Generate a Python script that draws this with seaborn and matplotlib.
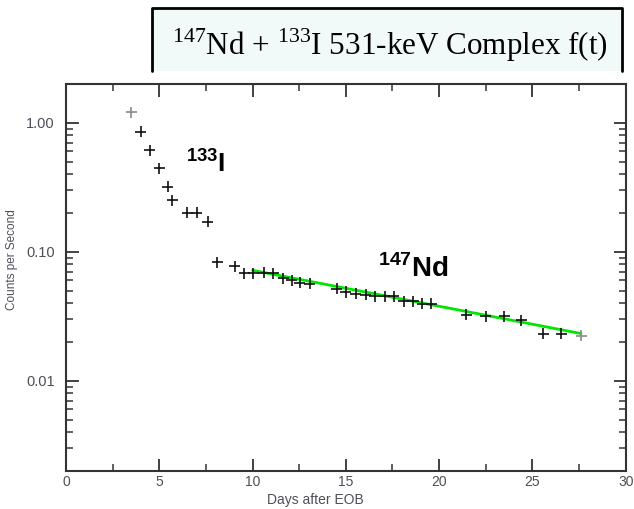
import matplotlib
matplotlib.use("Agg")
import matplotlib.pyplot as plt
from matplotlib.patches import Rectangle
from matplotlib.lines import Line2D
from matplotlib.ticker import FixedLocator, MultipleLocator, FixedFormatter, LogLocator, NullFormatter
import pandas as pd
import seaborn as sns

# measured decay points (days after EOB, counts per second)
days = [3.5, 4.0, 4.5, 5.0, 5.45, 5.7, 6.5, 7.0, 7.6, 8.1, 9.05, 9.55, 10.05,
        10.6, 11.1, 11.64, 12.09, 12.53, 13.07, 14.5, 15.0, 15.53, 16.07, 16.55,
        17.09, 17.57, 18.1, 18.6, 19.1, 19.59, 21.46, 22.5, 23.5, 24.4, 25.57,
        26.55, 27.62]
cps = [1.21, 0.85, 0.61, 0.445, 0.32, 0.25, 0.20, 0.20, 0.171, 0.083, 0.077,
       0.068, 0.068, 0.069, 0.068, 0.0625, 0.060, 0.0576, 0.0565, 0.0517, 0.0487,
       0.0473, 0.0465, 0.0453, 0.0453, 0.0453, 0.0412, 0.0412, 0.0395, 0.0395,
       0.0325, 0.0316, 0.0316, 0.0293, 0.0231, 0.0231, 0.0224]

# 147Nd fit line end points
fit_days = [10.0, 27.6]
fit_cps = [0.0718, 0.0232]

y_ticks = [0.01, 0.1, 1.0]
y_tick_labels = ["0.01", "0.10", "1.00"]

sns.set_style("ticks")
plt.rcParams["font.family"] = ["Liberation Sans", "DejaVu Sans"]
plt.rcParams["mathtext.fontset"] = "custom"
plt.rcParams["mathtext.rm"] = "Liberation Serif"
plt.rcParams["mathtext.bf"] = "Liberation Sans:bold"

df = pd.DataFrame({"days": days, "cps": cps})
df["shade"] = "dark"
df.loc[[0, len(df) - 1], "shade"] = "light"
fit = pd.DataFrame({"days": fit_days, "cps": fit_cps})

fig = plt.figure(figsize=(6.34, 5.09), dpi=100)
ax = fig.add_axes([0.104, 0.075, 0.883, 0.760])

sns.lineplot(data=fit, x="days", y="cps", color="#00e600", linewidth=2.0, ax=ax, zorder=2)
sns.scatterplot(data=df, x="days", y="cps", hue="shade",
                palette={"dark": "#111111", "light": "#8a8a8a"},
                marker="+", s=64, linewidth=1.2, ax=ax, legend=False, zorder=3)

ax.set_yscale("log")
ax.set_xlim(0, 30)
ax.set_ylim(0.002, 2)
ax.xaxis.set_major_locator(MultipleLocator(5))
ax.xaxis.set_minor_locator(MultipleLocator(2.5))
ax.yaxis.set_major_locator(FixedLocator(y_ticks))
ax.yaxis.set_major_formatter(FixedFormatter(y_tick_labels))
ax.yaxis.set_minor_locator(LogLocator(base=10, subs=range(2, 10)))
ax.yaxis.set_minor_formatter(NullFormatter())

lab_col = "#4d4f58"
ax.tick_params(which="both", direction="in", top=True, right=True,
               color="#333333", labelcolor=lab_col)
ax.tick_params(axis="y", which="major", length=9, width=1.3, pad=8, labelsize=10.5)
ax.tick_params(axis="x", which="major", length=9, width=1.3, pad=3, labelsize=10)
ax.tick_params(which="minor", length=5, width=1.1)
for sp in ax.spines.values():
    sp.set_color("#333333")
    sp.set_linewidth(1.5)

ax.set_xlabel("Days after EOB", color=lab_col, fontsize=10, va="center")
ax.set_ylabel("Counts per Second", color=lab_col, fontsize=8.5)
ax.xaxis.set_label_coords(0.445, -0.076)
ax.yaxis.set_label_coords(-0.086, 0.545)

ax.text(6.45, 0.42, r"$^{\mathbf{133}}$I", fontsize=19, fontweight="bold",
        ha="left", va="baseline", color="black")
ax.text(16.7, 0.0636, r"$^{\mathbf{147}}$Nd", fontsize=20, fontweight="bold",
        ha="left", va="baseline", color="black")

# title box, open at the bottom
x0, x1 = 152 / 634, 622 / 634
y0, y1 = 1 - 71 / 509, 1 - 8 / 509
fig.patches.append(Rectangle((x0, y0), x1 - x0, y1 - y0, transform=fig.transFigure,
                             facecolor="#f1f9f9", edgecolor="none", zorder=0))
fig.add_artist(Line2D([x0, x0, x1, x1], [y0, y1, y1, y0], transform=fig.transFigure,
                      color="black", linewidth=2.0))
fig.text(389.5 / 634, 1 - 55 / 509, r"$^{147}$Nd + $^{133}$I 531-keV Complex f(t)",
         family="Liberation Serif", fontsize=22.4, ha="center", va="baseline", color="black")

fig.savefig("out.png", dpi=100)
